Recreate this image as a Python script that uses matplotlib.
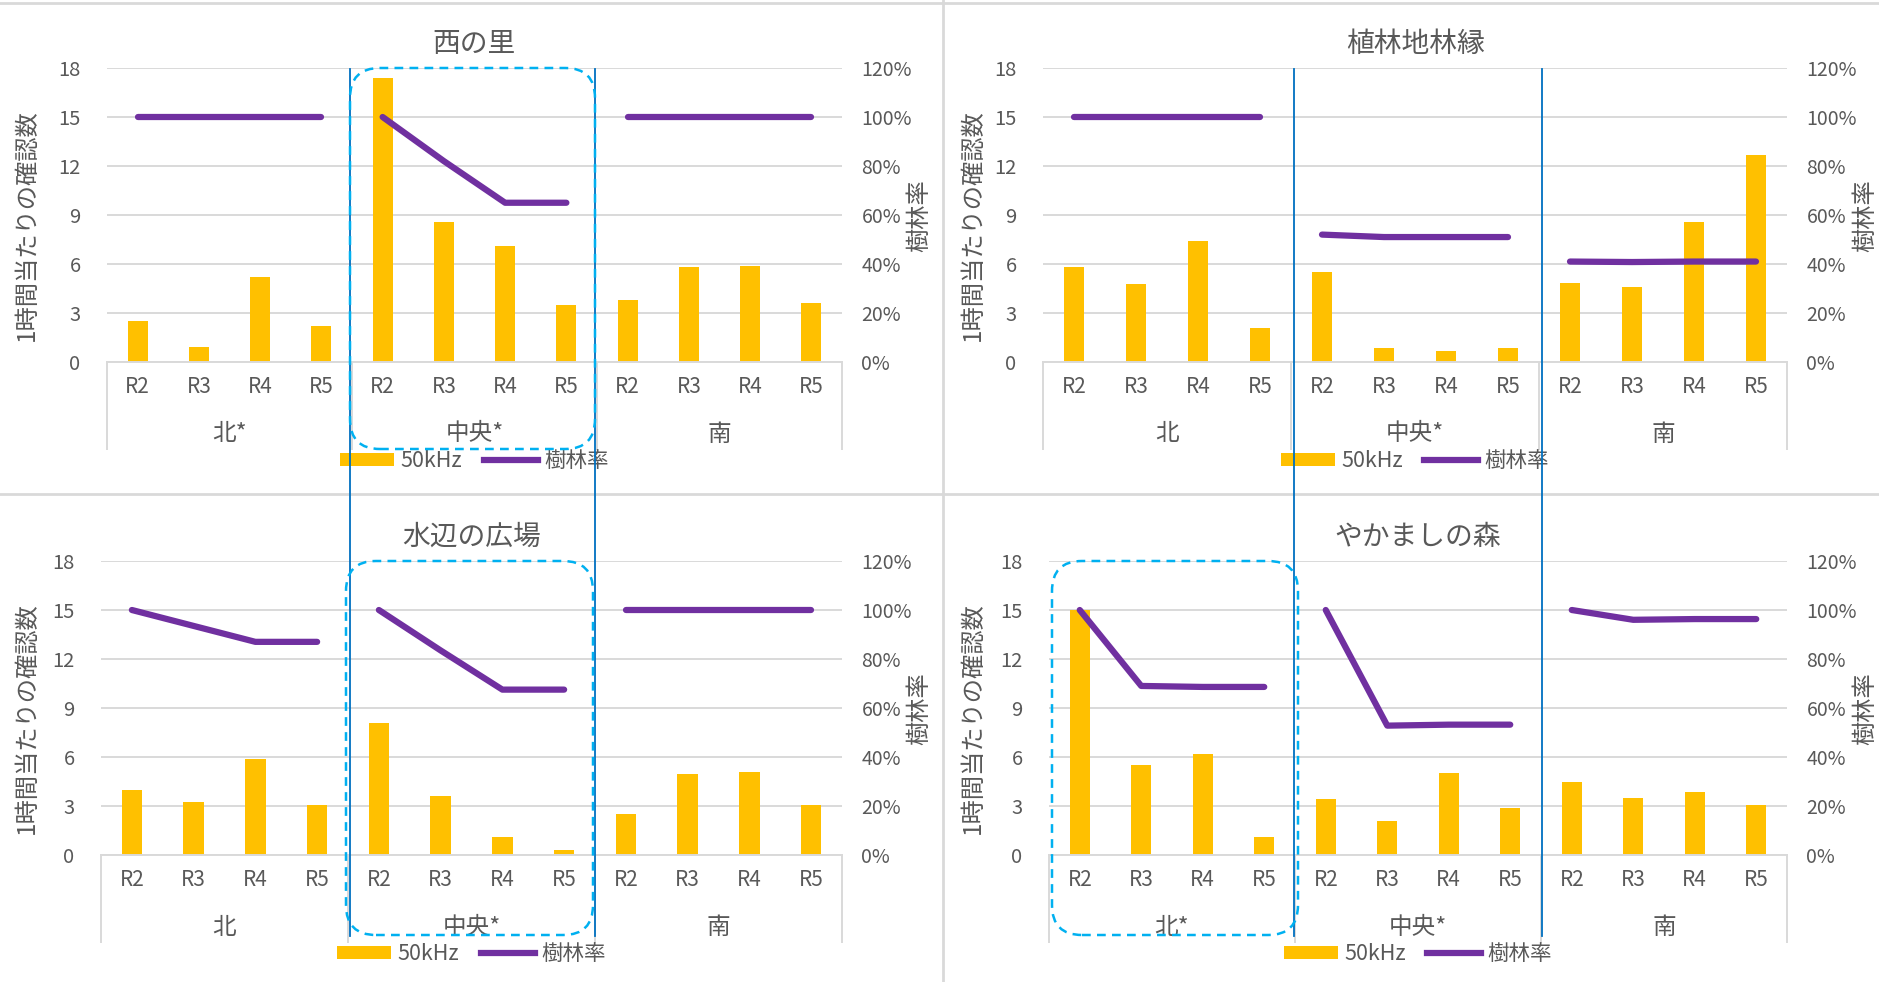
import numpy as np
import matplotlib
matplotlib.use('Agg')
import matplotlib.pyplot as plt
from matplotlib.patches import FancyBboxPatch, Patch
from matplotlib.lines import Line2D
from matplotlib.transforms import IdentityTransform, blended_transform_factory
from matplotlib.ticker import PercentFormatter

plt.rcParams['font.family'] = ['Noto Sans CJK JP', 'DejaVu Sans']

# ---------------- data ----------------
years = ['R2', 'R3', 'R4', 'R5']
titles = ['西の里', '植林地林縁', '水辺の広場', 'やかましの森']
group_labels = [['北*', '中央*', '南'],
                ['北', '中央*', '南'],
                ['北', '中央*', '南'],
                ['北*', '中央*', '南']]
bar_label = '50kHz'
line_label = '樹林率'
ylabel_left = '1時間当たりの確認数'
ylabel_right = '樹林率'

bats_nishinosato = [2.5, 0.9, 5.2, 2.2, 17.4, 8.6, 7.1, 3.5, 3.8, 5.8, 5.9, 3.6]
rate_nishinosato = [1.00, 1.00, 1.00, 1.00, 1.00, 0.82, 0.65, 0.65, 1.00, 1.00, 1.00, 1.00]
bats_shokurin = [5.8, 4.8, 7.4, 2.1, 5.5, 0.85, 0.67, 0.85, 4.85, 4.6, 8.55, 12.7]
rate_shokurin = [1.00, 1.00, 1.00, 1.00, 0.52, 0.51, 0.51, 0.51, 0.41, 0.408, 0.41, 0.41]
bats_mizube = [4.0, 3.25, 5.9, 3.05, 8.1, 3.6, 1.1, 0.3, 2.5, 4.95, 5.1, 3.05]
rate_mizube = [1.00, 0.935, 0.87, 0.87, 1.00, 0.835, 0.675, 0.675, 1.00, 1.00, 1.00, 1.00]
bats_yakamashi = [15.0, 5.5, 6.2, 1.1, 3.4, 2.1, 5.0, 2.85, 4.5, 3.5, 3.85, 3.05]
rate_yakamashi = [1.00, 0.69, 0.686, 0.686, 1.00, 0.528, 0.532, 0.532, 1.00, 0.96, 0.963, 0.963]

bats_all = [bats_nishinosato, bats_shokurin, bats_mizube, bats_yakamashi]
rate_all = [rate_nishinosato, rate_shokurin, rate_mizube, rate_yakamashi]
highlight_group = [1, None, 1, 0]

# ---------------- layout ----------------
W, H = 1879, 982
fig = plt.figure(figsize=(W / 100, H / 100), dpi=100)
fig.patch.set_facecolor('white')

panels = [dict(l=107, r=842, t=68, b=362),
          dict(l=1043, r=1787, t=68, b=362),
          dict(l=101, r=842, t=561, b=855),
          dict(l=1049, r=1787, t=561, b=855)]
ylab_left_x = [27, 973, 27, 973]
ylab_right_x = [919, 1865, 919, 1865]
box_ext = [87, 87, 80, 80]
col_shift = [-2, 3]

TXT = '#595959'
GRID = '#D9D9D9'
BAR = '#FFC000'
LINE = '#7030A0'
BLUE = '#0070C0'
DASH = '#00B0F0'

def px2fig(x, y):
    return x / W, 1 - y / H

axes = []
for i, p in enumerate(panels):
    l, r, t, b = p['l'], p['r'], p['t'], p['b']
    ah = b - t
    ax = fig.add_axes([l / W, 1 - b / H, (r - l) / W, ah / H])
    axes.append(ax)
    x = np.arange(12)
    ax.bar(x, bats_all[i], width=0.33, color=BAR, zorder=2)
    ax.set_xlim(-0.5, 11.5)
    ax.set_ylim(0, 18)
    ax.set_yticks(range(0, 19, 3))
    ax.grid(axis='y', color=GRID, lw=1.4)
    ax.set_axisbelow(True)
    for s in ['top', 'left', 'right']:
        ax.spines[s].set_visible(False)
    ax.spines['bottom'].set_color(GRID)
    ax.spines['bottom'].set_linewidth(1.4)
    ax.tick_params(axis='y', length=0, pad=19, labelsize=14.5, labelcolor=TXT)
    ax.set_xticks(x)
    ax.set_xticklabels(years * 3)
    ax.tick_params(axis='x', length=0, pad=10, labelsize=15, labelcolor=TXT)

    ax2 = ax.twinx()
    ax2.set_ylim(0, 1.2)
    ax2.set_yticks(np.arange(0, 1.21, 0.2))
    ax2.yaxis.set_major_formatter(PercentFormatter(1.0, decimals=0))
    for s in ax2.spines.values():
        s.set_visible(False)
    ax2.tick_params(axis='y', length=0, pad=14, labelsize=14, labelcolor=TXT)
    for g in range(3):
        ax2.plot(x[4 * g:4 * g + 4], rate_all[i][4 * g:4 * g + 4], color=LINE, lw=4.5,
                 solid_capstyle='round', solid_joinstyle='round', zorder=3)

    trans = blended_transform_factory(ax.transData, ax.transAxes)
    for xb in [-0.5, 3.5, 7.5, 11.5]:
        ax.plot([xb, xb], [0, -87 / ah], transform=trans, color=GRID, lw=1.4, clip_on=False)
    for g in range(3):
        ax.text(4 * g + 1.5, -72 / ah, group_labels[i][g], transform=trans,
                ha='center', va='center', fontsize=17, color=TXT)

    handles = [Patch(facecolor=BAR, label=bar_label),
               Line2D([], [], color=LINE, lw=4.5, label=line_label)]
    leg = ax.legend(handles=handles, loc='center', bbox_to_anchor=(0.5, -99 / ah),
                    ncol=2, frameon=False, fontsize=15.5, handlelength=2.5, handleheight=0.55,
                    columnspacing=1.0, handletextpad=0.3, labelcolor=TXT)

    cx = (l + r) / 2
    fig.text(*px2fig(cx, t - 24), titles[i], ha='center', va='center', fontsize=20, color=TXT)
    fig.text(*px2fig(ylab_left_x[i], t + 157), ylabel_left, rotation=90, ha='center', va='center',
             fontsize=17.5, color=TXT)
    fig.text(*px2fig(ylab_right_x[i], t + 148), ylabel_right, rotation=90, ha='center', va='center',
             fontsize=17.5, color=TXT)

# panel borders
for yy in [3, 494]:
    fig.add_artist(Line2D([0, 1], [1 - yy / H] * 2, transform=fig.transFigure, color=GRID, lw=2))
fig.add_artist(Line2D([943 / W] * 2, [0, 1], transform=fig.transFigure, color=GRID, lw=2))

# blue separators spanning both rows
for c, col_ax in enumerate([axes[0], axes[1]]):
    for xb in [3.5, 7.5]:
        xd, _ = col_ax.transData.transform((xb, 0))
        xd += col_shift[c]
        fig.add_artist(Line2D([xd / W] * 2, [1 - 69 / H, 1 - 936 / H], transform=fig.transFigure,
                              color=BLUE, lw=1.3, zorder=5))

# dashed highlight boxes
for i, hg in enumerate(highlight_group):
    if hg is None:
        continue
    ax = axes[i]
    p = panels[i]
    shift = col_shift[i % 2]
    x0, _ = ax.transData.transform((4 * hg - 0.5, 0))
    x1, _ = ax.transData.transform((4 * hg + 3.5, 0))
    x0 += shift
    x1 += shift
    ytop = H - p['t']
    ybot = H - (p['b'] + box_ext[i])
    box = FancyBboxPatch((x0, ybot), x1 - x0, ytop - ybot,
                         boxstyle='round,pad=0,rounding_size=30',
                         transform=IdentityTransform(), fill=False, ec=DASH,
                         ls=(0, (3.5, 2.5)), lw=1.8, zorder=6)
    fig.add_artist(box)

fig.savefig('out.png', dpi=100, facecolor='white')
